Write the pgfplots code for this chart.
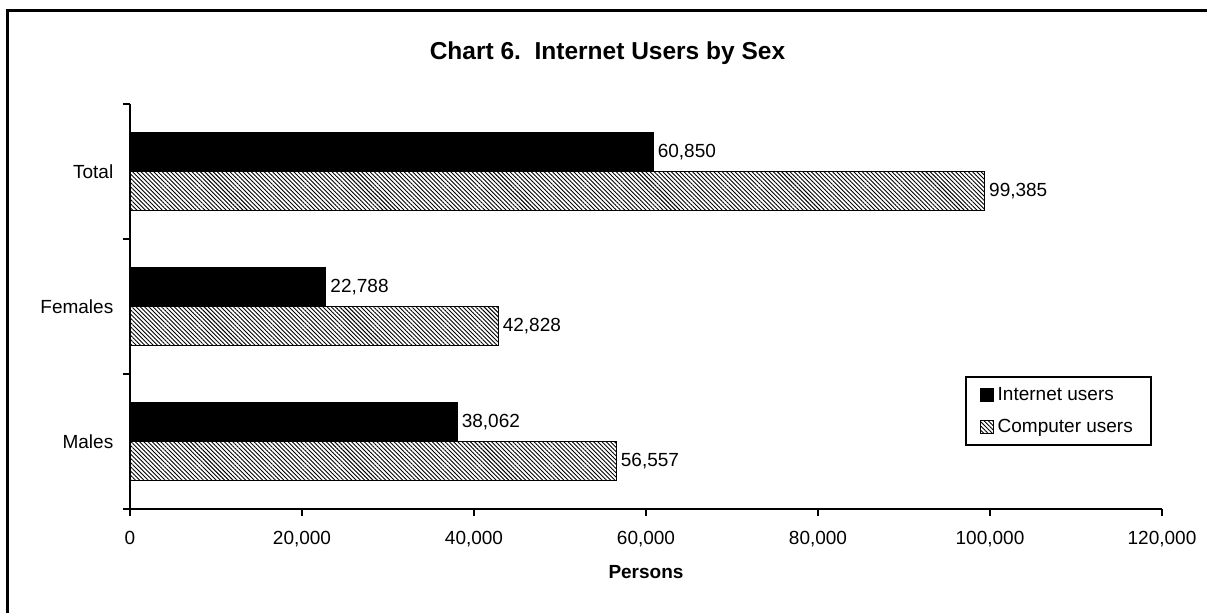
\documentclass[border=0pt]{standalone}
\usepackage{fontspec}
\setmainfont{Liberation Sans}
\usepackage{pgfplots}
\pgfplotsset{compat=1.18}
\usetikzlibrary{patterns.meta}
\begin{document}
\fontsize{9.5pt}{11pt}\selectfont
\begin{tikzpicture}
\useasboundingbox (0,0) rectangle (603.5pt,306pt);
\draw[line width=1.5pt] (3.75pt,-10pt) -- (3.75pt,300.75pt) -- (604pt,300.75pt) -- (604pt,-10pt);
\node[font=\fontsize{12.25pt}{14pt}\selectfont\bfseries] at (303.75pt,279.5pt) {Chart 6.\ \ Internet Users by Sex};
\begin{axis}[
  at={(65pt,51.5pt)}, anchor=south west,
  scale only axis, width=516pt, height=202.5pt,
  xmin=0, xmax=120000, ymin=-0.5, ymax=2.5,
  axis lines*=left,
  axis line style={line width=0.75pt, -},
  every tick/.style={line width=0.75pt, black},
  tick align=outside,
  major tick length=3.5pt,
  xtick={0,20000,40000,60000,80000,100000,120000},
  scaled x ticks=false,
  /pgf/number format/fixed,
  /pgf/number format/1000 sep={,},
  /pgf/number format/assume math mode=true,
  xticklabel style={yshift=-4pt},
  ytick={-0.5,0.5,1.5,2.5},
  yticklabels={},
  extra y ticks={0,1,2},
  extra y tick labels={Males,Females,Total},
  extra y tick style={major tick length=0pt, tick label style={xshift=-5pt}},
  xlabel={\bfseries Persons},
  xlabel style={at={(axis description cs:0.5,0)}, anchor=center, yshift=-31.5pt},
  legend style={at={(0.809,0.328)}, anchor=north west, draw=black, line width=1pt,
    inner xsep=7pt, inner ysep=3pt, row sep=4pt,
    cells={anchor=west}, font=\fontsize{9.5pt}{11pt}\selectfont},
  clip=false,
]
\addplot[xbar, bar width=0.289, bar shift=0.1445, fill=black, draw=black, line width=0.5pt,
  point meta=x, nodes near coords,
  every node near coord/.style={anchor=west, inner xsep=2pt, black, yshift=9.75pt},
  legend image code/.code={\draw[fill=black, draw=black, line width=0.4pt] (1pt,-3.2pt) rectangle (7.5pt,3.2pt);}]
  coordinates {(38062,0) (22788,1) (60850,2)};
\addlegendentry{Internet users}
\addplot[xbar, bar width=0.289, bar shift=-0.1445, draw=black, line width=0.5pt,
  pattern={Lines[angle=-45,distance=1.5pt,line width=0.45pt]}, pattern color=black,
  point meta=x, nodes near coords,
  every node near coord/.style={anchor=west, inner xsep=2pt, black, yshift=-9.75pt},
  legend image code/.code={\draw[pattern={Lines[angle=-45,distance=1.5pt,line width=0.4pt]}, pattern color=black, draw=black, line width=0.4pt] (1pt,-3.2pt) rectangle (7.5pt,3.2pt);}]
  coordinates {(56557,0) (42828,1) (99385,2)};
\addlegendentry{Computer users}
\end{axis}
\end{tikzpicture}
\end{document}
